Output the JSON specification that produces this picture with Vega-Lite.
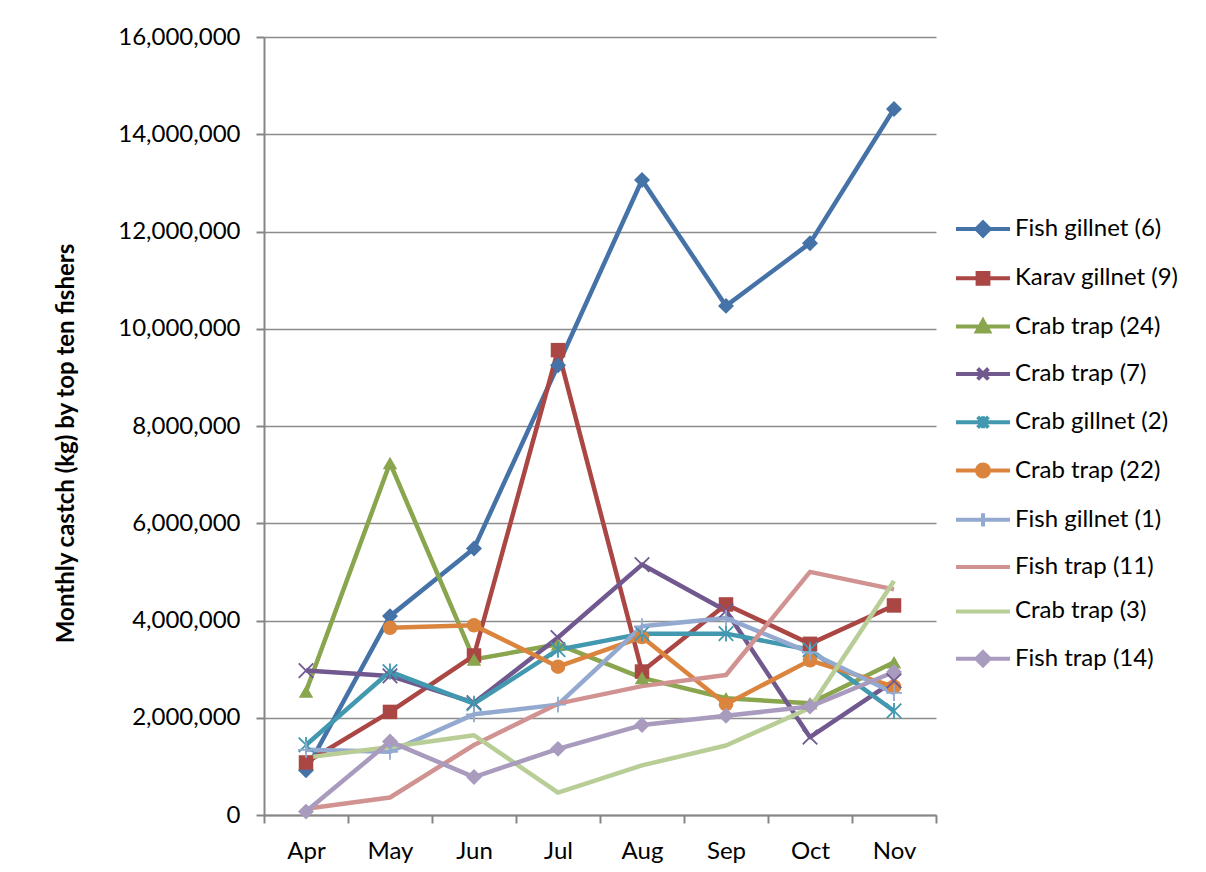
{
  "$schema": "https://vega.github.io/schema/vega-lite/v6.json",
  "width": 672,
  "height": 778,
  "autosize": {"type": "none"},
  "padding": {"left": 264, "top": 37, "right": 270, "bottom": 57},
  "background": "white",
  "config": {"font": "Lato", "view": {"stroke": null}},
  "data": {"values": [
    {"series": "Fish gillnet (6)", "month": "Apr", "value": 920000},
    {"series": "Fish gillnet (6)", "month": "May", "value": 4090000},
    {"series": "Fish gillnet (6)", "month": "Jun", "value": 5480000},
    {"series": "Fish gillnet (6)", "month": "Jul", "value": 9250000},
    {"series": "Fish gillnet (6)", "month": "Aug", "value": 13060000},
    {"series": "Fish gillnet (6)", "month": "Sep", "value": 10470000},
    {"series": "Fish gillnet (6)", "month": "Oct", "value": 11760000},
    {"series": "Fish gillnet (6)", "month": "Nov", "value": 14520000},
    {"series": "Karav gillnet (9)", "month": "Apr", "value": 1080000},
    {"series": "Karav gillnet (9)", "month": "May", "value": 2120000},
    {"series": "Karav gillnet (9)", "month": "Jun", "value": 3280000},
    {"series": "Karav gillnet (9)", "month": "Jul", "value": 9560000},
    {"series": "Karav gillnet (9)", "month": "Aug", "value": 2950000},
    {"series": "Karav gillnet (9)", "month": "Sep", "value": 4330000},
    {"series": "Karav gillnet (9)", "month": "Oct", "value": 3520000},
    {"series": "Karav gillnet (9)", "month": "Nov", "value": 4310000},
    {"series": "Crab trap (24)", "month": "Apr", "value": 2540000},
    {"series": "Crab trap (24)", "month": "May", "value": 7240000},
    {"series": "Crab trap (24)", "month": "Jun", "value": 3200000},
    {"series": "Crab trap (24)", "month": "Jul", "value": 3510000},
    {"series": "Crab trap (24)", "month": "Aug", "value": 2820000},
    {"series": "Crab trap (24)", "month": "Sep", "value": 2400000},
    {"series": "Crab trap (24)", "month": "Oct", "value": 2300000},
    {"series": "Crab trap (24)", "month": "Nov", "value": 3140000},
    {"series": "Crab trap (7)", "month": "Apr", "value": 2970000},
    {"series": "Crab trap (7)", "month": "May", "value": 2860000},
    {"series": "Crab trap (7)", "month": "Jun", "value": 2310000},
    {"series": "Crab trap (7)", "month": "Jul", "value": 3650000},
    {"series": "Crab trap (7)", "month": "Aug", "value": 5150000},
    {"series": "Crab trap (7)", "month": "Sep", "value": 4200000},
    {"series": "Crab trap (7)", "month": "Oct", "value": 1600000},
    {"series": "Crab trap (7)", "month": "Nov", "value": 2760000},
    {"series": "Crab gillnet (2)", "month": "Apr", "value": 1440000},
    {"series": "Crab gillnet (2)", "month": "May", "value": 2950000},
    {"series": "Crab gillnet (2)", "month": "Jun", "value": 2290000},
    {"series": "Crab gillnet (2)", "month": "Jul", "value": 3400000},
    {"series": "Crab gillnet (2)", "month": "Aug", "value": 3730000},
    {"series": "Crab gillnet (2)", "month": "Sep", "value": 3730000},
    {"series": "Crab gillnet (2)", "month": "Oct", "value": 3400000},
    {"series": "Crab gillnet (2)", "month": "Nov", "value": 2140000},
    {"series": "Crab trap (22)", "month": "May", "value": 3850000},
    {"series": "Crab trap (22)", "month": "Jun", "value": 3900000},
    {"series": "Crab trap (22)", "month": "Jul", "value": 3050000},
    {"series": "Crab trap (22)", "month": "Aug", "value": 3660000},
    {"series": "Crab trap (22)", "month": "Sep", "value": 2280000},
    {"series": "Crab trap (22)", "month": "Oct", "value": 3180000},
    {"series": "Crab trap (22)", "month": "Nov", "value": 2640000},
    {"series": "Fish gillnet (1)", "month": "Apr", "value": 1340000},
    {"series": "Fish gillnet (1)", "month": "May", "value": 1300000},
    {"series": "Fish gillnet (1)", "month": "Jun", "value": 2070000},
    {"series": "Fish gillnet (1)", "month": "Jul", "value": 2270000},
    {"series": "Fish gillnet (1)", "month": "Aug", "value": 3880000},
    {"series": "Fish gillnet (1)", "month": "Sep", "value": 4050000},
    {"series": "Fish gillnet (1)", "month": "Oct", "value": 3340000},
    {"series": "Fish gillnet (1)", "month": "Nov", "value": 2510000},
    {"series": "Fish trap (11)", "month": "Apr", "value": 130000},
    {"series": "Fish trap (11)", "month": "May", "value": 360000},
    {"series": "Fish trap (11)", "month": "Jun", "value": 1440000},
    {"series": "Fish trap (11)", "month": "Jul", "value": 2290000},
    {"series": "Fish trap (11)", "month": "Aug", "value": 2650000},
    {"series": "Fish trap (11)", "month": "Sep", "value": 2880000},
    {"series": "Fish trap (11)", "month": "Oct", "value": 5000000},
    {"series": "Fish trap (11)", "month": "Nov", "value": 4640000},
    {"series": "Crab trap (3)", "month": "Apr", "value": 1180000},
    {"series": "Crab trap (3)", "month": "May", "value": 1400000},
    {"series": "Crab trap (3)", "month": "Jun", "value": 1640000},
    {"series": "Crab trap (3)", "month": "Jul", "value": 460000},
    {"series": "Crab trap (3)", "month": "Aug", "value": 1020000},
    {"series": "Crab trap (3)", "month": "Sep", "value": 1430000},
    {"series": "Crab trap (3)", "month": "Oct", "value": 2200000},
    {"series": "Crab trap (3)", "month": "Nov", "value": 4810000},
    {"series": "Fish trap (14)", "month": "Apr", "value": 70000},
    {"series": "Fish trap (14)", "month": "May", "value": 1510000},
    {"series": "Fish trap (14)", "month": "Jun", "value": 780000},
    {"series": "Fish trap (14)", "month": "Jul", "value": 1360000},
    {"series": "Fish trap (14)", "month": "Aug", "value": 1850000},
    {"series": "Fish trap (14)", "month": "Sep", "value": 2040000},
    {"series": "Fish trap (14)", "month": "Oct", "value": 2230000},
    {"series": "Fish trap (14)", "month": "Nov", "value": 2940000}
  ]},
  "encoding": {
    "x": {
      "field": "month", "type": "nominal",
      "sort": ["Apr", "May", "Jun", "Jul", "Aug", "Sep", "Oct", "Nov"],
      "scale": {"type": "band", "paddingInner": 0, "paddingOuter": 0},
      "axis": {
        "title": null, "labelAngle": 0, "labelFontSize": 24, "labelColor": "black",
        "labelPadding": 16, "tickBand": "extent", "tickSize": 8, "tickColor": "#868686",
        "tickWidth": 2, "domainColor": "#868686", "domainWidth": 2, "grid": false
      }
    },
    "y": {
      "field": "value", "type": "quantitative",
      "scale": {"domain": [0, 16000000], "nice": false},
      "axis": {
        "title": "Monthly castch (kg) by top ten fishers",
        "values": [0, 2000000, 4000000, 6000000, 8000000, 10000000, 12000000, 14000000, 16000000],
        "format": ",d", "labelFontSize": 24, "labelColor": "black", "labelPadding": 16,
        "tickSize": 8, "tickColor": "#868686", "tickWidth": 2,
        "domainColor": "#868686", "domainWidth": 2,
        "grid": true, "gridColor": "#8c8c8c", "gridWidth": 1.6,
        "titleFontSize": 24, "titleFontWeight": "bold", "titleColor": "black",
        "titleAngle": -90, "titleX": -198, "titleY": 406, "titleAlign": "center", "titleBaseline": "middle"
      }
    }
  },
  "layer": [
    {
      "mark": {"type": "line", "strokeWidth": 4.5, "strokeJoin": "round"},
      "encoding": {
        "color": {
          "field": "series", "type": "nominal",
          "scale": {
            "domain": ["Fish gillnet (6)", "Karav gillnet (9)", "Crab trap (24)", "Crab trap (7)", "Crab gillnet (2)", "Crab trap (22)", "Fish gillnet (1)", "Fish trap (11)", "Crab trap (3)", "Fish trap (14)"],
            "range": ["#4572a7", "#aa4643", "#89a54e", "#71588f", "#4198af", "#db843d", "#93a9cf", "#d19392", "#b9cd96", "#a99bbd"]
          },
          "legend": {
            "title": null, "orient": "none", "legendX": 707, "legendY": 180,
            "labelFontSize": 24, "labelColor": "black", "labelOffset": 20, "labelLimit": 400,
            "rowPadding": 20.3, "symbolSize": 144, "symbolStrokeWidth": 4,
            "encode": {
              "symbols": {
                "update": {
                  "shape": {"signal": "(datum.value === 'Fish gillnet (6)' || datum.value === 'Fish trap (14)') ? 'M-4.5,0L4.5,0M0,-1.1L1.1,0L0,1.1L-1.1,0Z' : datum.value === 'Karav gillnet (9)' ? 'M-4.5,0L4.5,0M-0.9,-0.9L0.9,-0.9L0.9,0.9L-0.9,0.9Z' : datum.value === 'Crab trap (24)' ? 'M-4.5,0L4.5,0M0,-1L1,0.8L-1,0.8Z' : datum.value === 'Crab trap (7)' ? 'M-4.5,0L4.5,0M-0.9,-0.9L0.9,0.9M-0.9,0.9L0.9,-0.9' : datum.value === 'Crab gillnet (2)' ? 'M-4.5,0L4.5,0M-0.9,-0.9L0.9,0.9M-0.9,0.9L0.9,-0.9M0,-1L0,1' : datum.value === 'Crab trap (22)' ? 'M-4.5,0L4.5,0M1,0A1,1,0,1,1,-1,0A1,1,0,1,1,1,0Z' : datum.value === 'Fish gillnet (1)' ? 'M-4.5,0L4.5,0M0,-1.1L0,1.1' : 'M-4.5,0L4.5,0'"},
                  "fill": {"scale": "color", "field": "value"},
                  "stroke": {"scale": "color", "field": "value"},
                  "strokeWidth": {"value": 4},
                  "opacity": {"value": 1}
                }
              }
            }
          }
        }
      }
    },
    {
      "transform": [{"filter": {"field": "series", "oneOf": ["Fish gillnet (6)", "Karav gillnet (9)", "Crab trap (24)", "Crab trap (22)", "Fish trap (14)"]}}],
      "mark": {"type": "point", "filled": true, "size": 210, "opacity": 1},
      "encoding": {
        "color": {"field": "series", "type": "nominal"},
        "shape": {
          "field": "series", "type": "nominal", "legend": null,
          "scale": {
            "domain": ["Fish gillnet (6)", "Karav gillnet (9)", "Crab trap (24)", "Crab trap (22)", "Fish trap (14)"],
            "range": ["M0,-1.1L1.1,0L0,1.1L-1.1,0Z", "square", "triangle-up", "circle", "M0,-1.1L1.1,0L0,1.1L-1.1,0Z"]
          }
        }
      }
    },
    {
      "transform": [{"filter": {"field": "series", "oneOf": ["Crab trap (7)", "Crab gillnet (2)", "Fish gillnet (1)"]}}],
      "mark": {"type": "point", "filled": false, "size": 210, "strokeWidth": 1.8, "opacity": 1},
      "encoding": {
        "color": {"field": "series", "type": "nominal"},
        "shape": {
          "field": "series", "type": "nominal", "legend": null,
          "scale": {
            "domain": ["Crab trap (7)", "Crab gillnet (2)", "Fish gillnet (1)"],
            "range": ["M-1,-1L1,1M-1,1L1,-1", "M-1,-1L1,1M-1,1L1,-1M0,-1.1L0,1.1", "M-1.1,0L1.1,0M0,-1.1L0,1.1"]
          }
        }
      }
    }
  ],
  "resolve": {"scale": {"shape": "independent"}}
}
